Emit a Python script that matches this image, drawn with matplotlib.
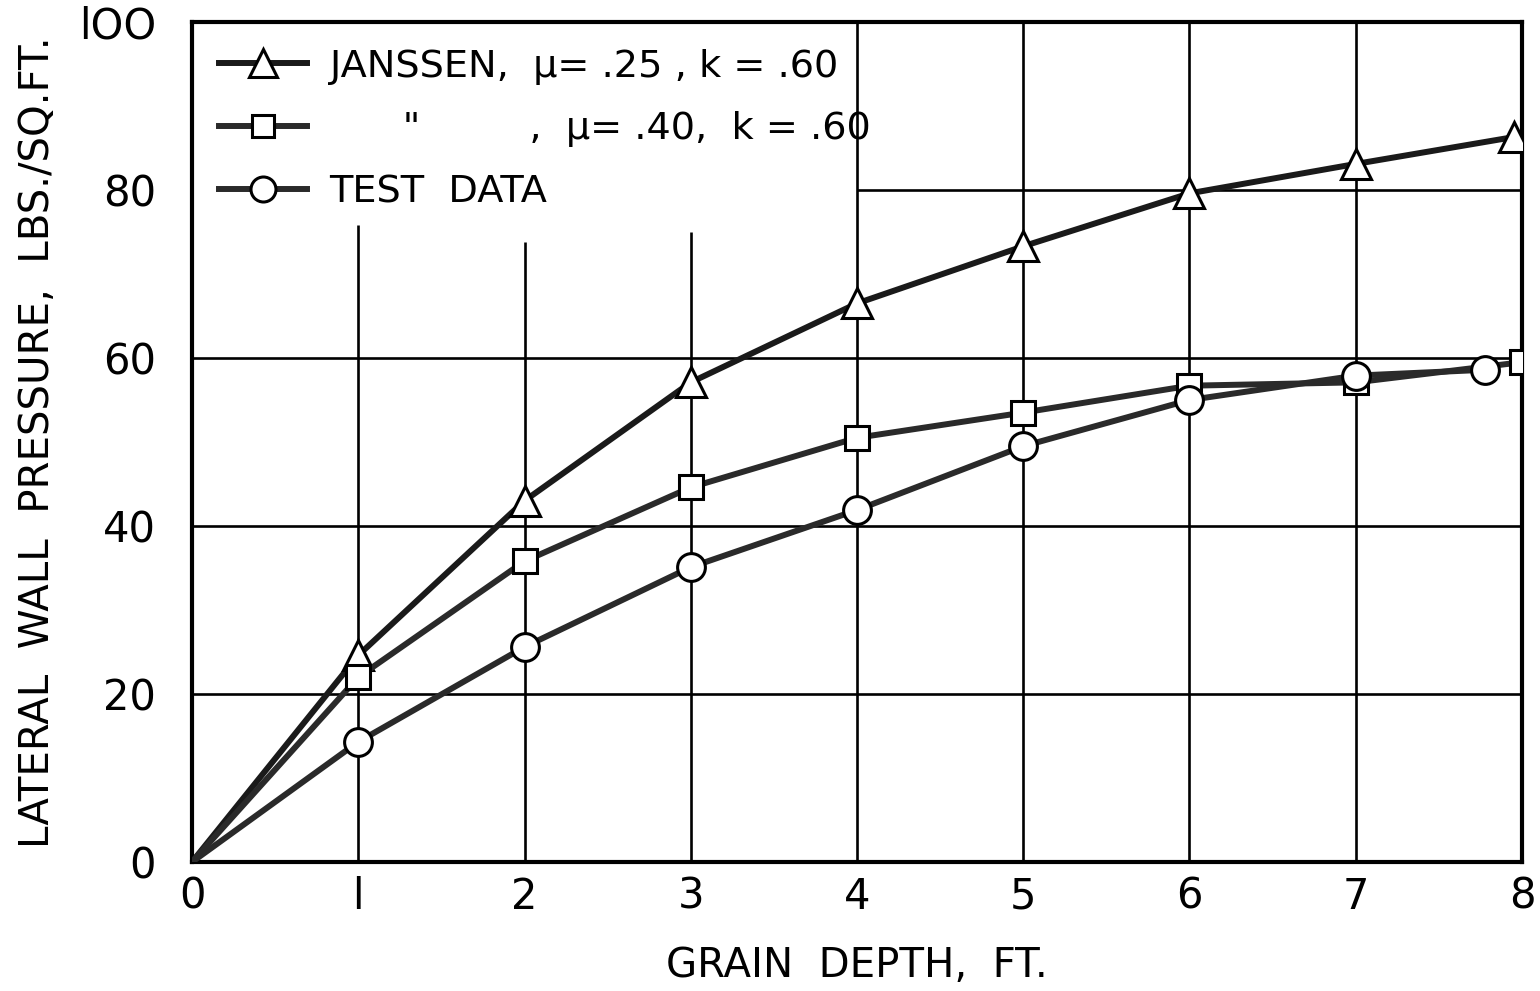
import matplotlib
matplotlib.use("Agg")
import matplotlib.pyplot as plt

# data
depth = [0, 1, 2, 3, 4, 5, 6, 7, 7.95]
janssen_25 = [0, 24.6, 43.0, 57.1, 66.5, 73.3, 79.6, 83.1, 86.3]

depth_sq = [0, 1, 2, 3, 4, 5, 6, 7, 8]
janssen_40 = [0, 22.0, 35.8, 44.6, 50.5, 53.5, 56.7, 57.1, 59.5]

depth_test = [0, 1, 2, 3, 4, 5, 6, 7, 7.78]
test_data = [0, 14.3, 25.6, 35.1, 41.9, 49.5, 55.0, 57.9, 58.6]

xticks = [0, 1, 2, 3, 4, 5, 6, 7, 8]
yticks = [0, 20, 40, 60, 80, 100]
xtick_labels = ["0", "l", "2", "3", "4", "5", "6", "7", "8"]
ytick_labels = ["0", "20", "40", "60", "80", "lOO"]

labels = ["JANSSEN,  \u03bc= .25 , k = .60",
          "      \"         ,  \u03bc= .40,  k = .60",
          "TEST  DATA"]

plt.rcParams['font.family'] = ['DejaVu Sans']

fig = plt.figure(figsize=(15.4, 9.91), dpi=100)
ax = fig.add_axes([0.1247, 0.1302, 0.8636, 0.8476])

# partial grid, like the hand-drawn original
glw = 1.9
ax.vlines([1], 0, 75.8, color='black', lw=glw, zorder=1)
ax.vlines([2], 0, 73.8, color='black', lw=glw, zorder=1)
ax.vlines([3], 0, 75.0, color='black', lw=glw, zorder=1)
ax.vlines(xticks[4:8], 0, 100, color='black', lw=glw, zorder=1)
ax.hlines(yticks[1:4], 0, 8, color='black', lw=glw, zorder=1)
ax.hlines([80], 4, 8, color='black', lw=glw, zorder=1)

ax.plot(depth, janssen_25, color='#1a1a1a', lw=4.3, marker='^', ms=22,
        mfc='white', mec='black', mew=2.2, label=labels[0], zorder=3)
ax.plot(depth_sq, janssen_40, color='#2a2a2a', lw=4.3, marker='s', ms=17,
        mfc='white', mec='black', mew=2.2, label=labels[1], zorder=3)
ax.plot(depth_test, test_data, color='#2a2a2a', lw=4.3, marker='o', ms=20,
        mfc='white', mec='black', mew=2.2, label=labels[2], zorder=3)

# origin has no marker
for line in ax.get_lines():
    line.set_markevery(list(range(1, 9)))

ax.set_xlim(0, 8)
ax.set_ylim(0, 100)
ax.set_xticks(xticks)
ax.set_xticklabels(xtick_labels)
ax.set_yticks(yticks)
ax.set_yticklabels(ytick_labels)
ax.tick_params(axis='x', length=0, labelsize=30, pad=10)
ax.tick_params(axis='y', length=0, labelsize=30, pad=26)
for s in ax.spines.values():
    s.set_linewidth(3)

ax.set_xlabel("GRAIN  DEPTH,  FT.", fontsize=29, labelpad=20)
ax.set_ylabel("LATERAL  WALL  PRESSURE,  LBS./SQ.FT.", fontsize=29,
              labelpad=15)

leg = ax.legend(loc='upper left', frameon=False, fontsize=27.5,
                handlelength=2.3, handletextpad=0.6, labelspacing=0.7,
                borderaxespad=0.3, markerscale=0.9)

fig.savefig("out.png", dpi=100, facecolor='white')
